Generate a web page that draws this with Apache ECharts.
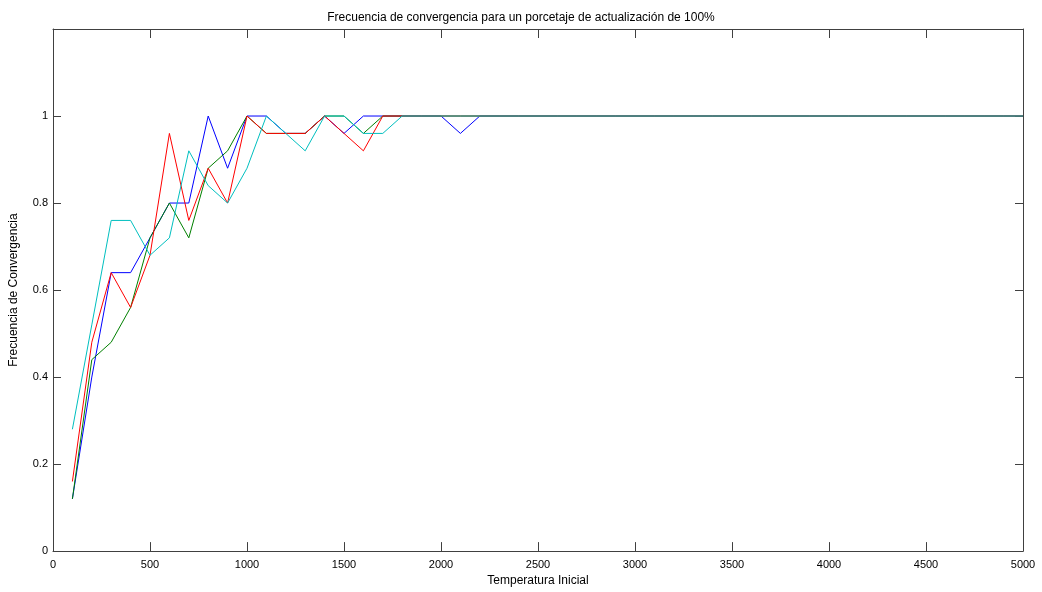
<!DOCTYPE html>
<html>
<head>
<meta charset="utf-8">
<script src="https://cdn.jsdelivr.net/npm/echarts@6/dist/echarts.min.js"></script>
<style>
  html, body { margin: 0; padding: 0; background: #ffffff; }
  #chart { width: 1042px; height: 592px; }
</style>
</head>
<body>
<div id="chart"></div>
<script>
// Initial temperatures of the runs
const temperatures = [
  100, 200, 300, 400, 500, 600, 700, 800, 900, 1000,
  1100, 1200, 1300, 1400, 1500, 1600, 1700, 1800, 1900, 2000,
  2100, 2200, 2300, 2400, 2500, 2600, 2700, 2800, 2900, 3000,
  3100, 3200, 3300, 3400, 3500, 3600, 3700, 3800, 3900, 4000,
  4100, 4200, 4300, 4400, 4500, 4600, 4700, 4800, 4900, 5000
];

// Convergence frequency of each of the four experiments
const runBlue = [
  0.12, 0.40, 0.64, 0.64, 0.72, 0.80, 0.80, 1.00, 0.88, 1.00,
  1.00, 0.96, 0.96, 1.00, 0.96, 1.00, 1.00, 1.00, 1.00, 1.00,
  0.96, 1.00, 1.00, 1.00, 1.00, 1.00, 1.00, 1.00, 1.00, 1.00,
  1.00, 1.00, 1.00, 1.00, 1.00, 1.00, 1.00, 1.00, 1.00, 1.00,
  1.00, 1.00, 1.00, 1.00, 1.00, 1.00, 1.00, 1.00, 1.00, 1.00
];
const runGreen = [
  0.12, 0.44, 0.48, 0.56, 0.72, 0.80, 0.72, 0.88, 0.92, 1.00,
  0.96, 0.96, 0.96, 1.00, 1.00, 0.96, 1.00, 1.00, 1.00, 1.00,
  1.00, 1.00, 1.00, 1.00, 1.00, 1.00, 1.00, 1.00, 1.00, 1.00,
  1.00, 1.00, 1.00, 1.00, 1.00, 1.00, 1.00, 1.00, 1.00, 1.00,
  1.00, 1.00, 1.00, 1.00, 1.00, 1.00, 1.00, 1.00, 1.00, 1.00
];
const runRed = [
  0.16, 0.48, 0.64, 0.56, 0.68, 0.96, 0.76, 0.88, 0.80, 1.00,
  0.96, 0.96, 0.96, 1.00, 0.96, 0.92, 1.00, 1.00, 1.00, 1.00,
  1.00, 1.00, 1.00, 1.00, 1.00, 1.00, 1.00, 1.00, 1.00, 1.00,
  1.00, 1.00, 1.00, 1.00, 1.00, 1.00, 1.00, 1.00, 1.00, 1.00,
  1.00, 1.00, 1.00, 1.00, 1.00, 1.00, 1.00, 1.00, 1.00, 1.00
];
const runCyan = [
  0.28, 0.52, 0.76, 0.76, 0.68, 0.72, 0.92, 0.84, 0.80, 0.88,
  1.00, 0.96, 0.92, 1.00, 1.00, 0.96, 0.96, 1.00, 1.00, 1.00,
  1.00, 1.00, 1.00, 1.00, 1.00, 1.00, 1.00, 1.00, 1.00, 1.00,
  1.00, 1.00, 1.00, 1.00, 1.00, 1.00, 1.00, 1.00, 1.00, 1.00,
  1.00, 1.00, 1.00, 1.00, 1.00, 1.00, 1.00, 1.00, 1.00, 1.00
];

const runs = [
  { values: runBlue,  color: '#0000ff' },
  { values: runGreen, color: '#008000' },
  { values: runRed,   color: '#ff0000' },
  { values: runCyan,  color: '#00bfbf' }
];

const FONT = 'Liberation Sans, Arial, Helvetica, sans-serif';
const AXIS_COLOR = '#404040';

const chart = echarts.init(document.getElementById('chart'), null, { renderer: 'canvas' });

// Shared settings for the boxed frame: all four sides carry inward ticks
const boxAxisX = {
  min: 0, max: 5000, interval: 500,
  axisLine: { show: true, onZero: false, lineStyle: { color: AXIS_COLOR, width: 1 } },
  axisTick: { show: true, inside: true, length: 9, lineStyle: { color: AXIS_COLOR } },
  splitLine: { show: false }
};
const boxAxisY = {
  min: 0, max: 1.2, interval: 0.2,
  axisLine: { show: true, onZero: false, lineStyle: { color: AXIS_COLOR, width: 1 } },
  axisTick: { show: true, inside: true, length: 8, lineStyle: { color: AXIS_COLOR } },
  splitLine: { show: false }
};

chart.setOption({
  animation: false,
  backgroundColor: '#ffffff',
  title: {
    text: 'Frecuencia de convergencia para un porcetaje de actualización de 100%',
    left: 'center',
    top: 7,
    textStyle: { fontFamily: FONT, fontSize: 12, fontWeight: 'normal', color: '#000' }
  },
  grid: { left: 52, right: 19, top: 29, bottom: 36, containLabel: false },
  xAxis: [
    Object.assign({}, boxAxisX, {
      type: 'value',
      position: 'bottom',
      name: 'Temperatura Inicial',
      nameLocation: 'middle',
      nameGap: 22,
      nameTextStyle: { fontFamily: FONT, fontSize: 12, color: '#000' },
      axisLabel: {
        fontFamily: FONT, fontSize: 11, color: '#000', margin: 8,
        formatter: function (v) { return String(v); }
      }
    }),
    Object.assign({}, boxAxisX, {
      type: 'value',
      position: 'top',
      axisLabel: { show: false }
    })
  ],
  yAxis: [
    Object.assign({}, boxAxisY, {
      type: 'value',
      position: 'left',
      name: 'Frecuencia de Convergencia',
      nameLocation: 'middle',
      nameGap: 33,
      nameRotate: 90,
      nameTextStyle: { fontFamily: FONT, fontSize: 12, color: '#000' },
      axisLabel: {
        fontFamily: FONT, fontSize: 11, color: '#000', margin: 5,
        formatter: function (v) {
          if (v > 1.0001) return '';
          return String(Math.round(v * 10) / 10);
        }
      }
    }),
    Object.assign({}, boxAxisY, {
      type: 'value',
      position: 'right',
      axisLabel: { show: false }
    })
  ],
  series: runs.map(function (run) {
    return {
      type: 'line',
      xAxisIndex: 0,
      yAxisIndex: 0,
      data: temperatures.map(function (t, i) { return [t, run.values[i]]; }),
      showSymbol: false,
      symbol: 'none',
      lineStyle: { color: run.color, width: 1 },
      itemStyle: { color: run.color },
      emphasis: { disabled: true }
    };
  })
});
</script>
</body>
</html>
